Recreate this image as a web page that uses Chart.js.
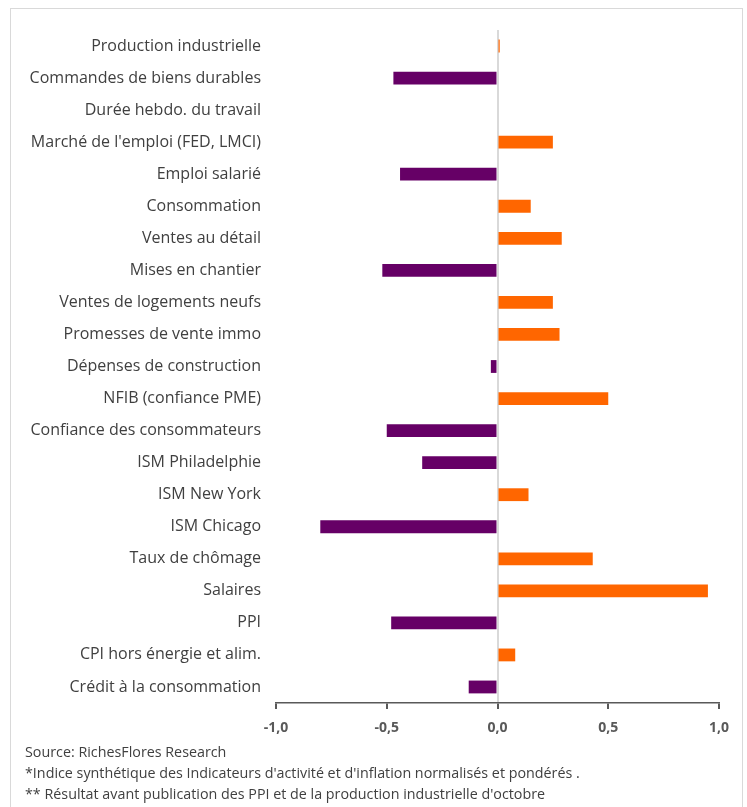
<!DOCTYPE html>
<html>
<head>
<meta charset="utf-8">
<script src="https://cdn.jsdelivr.net/npm/chart.js@4"></script>
<style>
  html, body { margin: 0; padding: 0; background: #fff; width: 747px; height: 807px; overflow: hidden; }
  #frame { position: absolute; left: 10px; top: 8px; width: 733px; height: 820px; border: 1px solid #d9d9d9; box-sizing: border-box; }
  #c { position: absolute; left: 0; top: 0; }
  .note { position: absolute; left: 25px; font-family: "Open Sans", sans-serif; font-size: 14.3px; color: #404040; white-space: nowrap; line-height: 18px; }
</style>
</head>
<body>
<div id="frame"></div>
<canvas id="c" width="747" height="807"></canvas>
<div class="note" style="top:743px">Source: RichesFlores Research</div>
<div class="note" style="top:764px">*Indice synthétique des Indicateurs d'activité et d'inflation normalisés et pondérés .</div>
<div class="note" style="top:785px">** Résultat avant publication des PPI et de la production industrielle d'octobre</div>
<script>
const categories = [
  "Production industrielle",
  "Commandes de biens durables",
  "Durée hebdo. du travail",
  "Marché de l'emploi (FED, LMCI)",
  "Emploi salarié",
  "Consommation",
  "Ventes au détail",
  "Mises en chantier",
  "Ventes de logements neufs",
  "Promesses de vente immo",
  "Dépenses de construction",
  "NFIB (confiance PME)",
  "Confiance des consommateurs",
  "ISM Philadelphie",
  "ISM New York",
  "ISM Chicago",
  "Taux de chômage",
  "Salaires",
  "PPI",
  "CPI hors énergie et alim.",
  "Crédit à la consommation"
];
const values = [0.01, -0.47, 0, 0.25, -0.44, 0.15, 0.29, -0.52, 0.25, 0.28, -0.03, 0.50, -0.50, -0.34, 0.14, -0.80, 0.43, 0.95, -0.48, 0.08, -0.13];
const xTicks = [-1.0, -0.5, 0.0, 0.5, 1.0];

const POS = '#FF6600', NEG = '#660066';

new Chart(document.getElementById('c'), {
  type: 'bar',
  data: {
    labels: categories,
    datasets: [{
      data: values,
      backgroundColor: values.map(v => v >= 0 ? POS : NEG),
      borderWidth: 0,
      barPercentage: 0.8,
      categoryPercentage: 0.5
    }]
  },
  options: {
    indexAxis: 'y',
    responsive: false,
    animation: false,
    layout: { padding: { left: 10, right: 28, top: 30, bottom: 0 } },
    plugins: { legend: { display: false }, tooltip: { enabled: false } },
    scales: {
      x: {
        min: -1, max: 1, z: 1,
        afterBuildTicks: s => { s.ticks = xTicks.map(v => ({ value: v })); },
        afterFit: s => { s.height = 807 - 703; },
        grid: {
          color: c => (c.tick && c.tick.value === 0) ? '#d9d9d9' : 'rgba(0,0,0,0)',
          lineWidth: 2,
          tickColor: '#595959',
          tickLength: 6,
          drawTicks: true
        },
        border: { display: true, color: '#595959', width: 1.5 },
        ticks: {
          color: '#595959',
          font: { family: '"Open Sans", sans-serif', size: 14, weight: 'bold' },
          padding: 11,
          callback: v => Number(v).toFixed(1).replace('.', ',')
        }
      },
      y: {
        afterFit: s => { s.width = 276 - 10; },
        grid: { display: false, drawTicks: false },
        border: { display: false },
        ticks: {
          color: '#404040',
          font: { family: '"Open Sans", sans-serif', size: 16 },
          padding: 15,
          autoSkip: false
        }
      }
    }
  }
});
</script>
</body>
</html>
